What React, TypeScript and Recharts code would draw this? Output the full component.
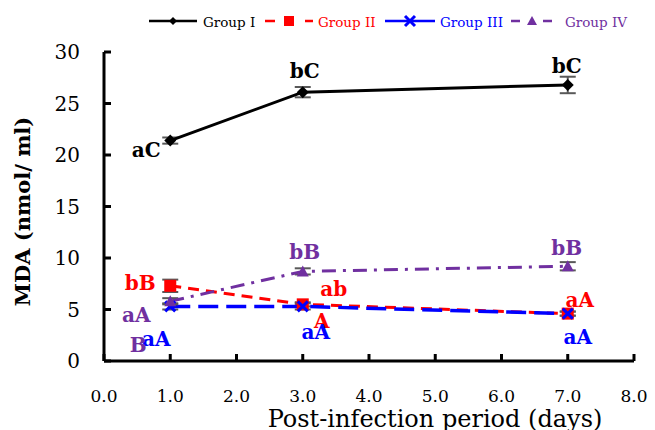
import React from 'react';
import { LineChart, Line, XAxis, YAxis, ErrorBar, LabelList, Legend } from 'recharts';

const days = [1, 3, 7];
const xTicks = [0, 1, 2, 3, 4, 5, 6, 7, 8];
const yTicks = [0, 5, 10, 15, 20, 25, 30];

const groupI = [21.4, 26.1, 26.8];
const groupII = [7.3, 5.5, 4.6];
const groupIII = [5.3, 5.3, 4.6];
const groupIV = [5.8, 8.7, 9.2];

const errI = [0.3, 0.5, 0.8];
const errII = [0.6, 0.2, 0.2];
const errIII = [0.3, 0.3, 0.2];
const errIV = [0.3, 0.3, 0.4];

const lettersI = ['aC', 'bC', 'bC'];
const lettersII = ['bB', 'ab', 'aA'];
const lettersIIb = ['', 'A', ''];
const lettersIII = ['aA', 'aA', 'aA'];
const lettersIV = ['aA', 'bB', 'bB'];
const lettersIVb = ['B', '', ''];

const rows = days.map((d, i) => ({
  day: d,
  g1: groupI[i], e1: errI[i], l1: lettersI[i],
  g2: groupII[i], e2: errII[i], l2: lettersII[i], l2b: lettersIIb[i],
  g3: groupIII[i], e3: errIII[i], l3: lettersIII[i],
  g4: groupIV[i], e4: errIV[i], l4: lettersIV[i], l4b: lettersIVb[i],
}));

const SERIF = '"DejaVu Serif", serif';
const BLACK = '#000000';
const RED = '#FF0000';
const BLUE = '#0000FF';
const PURPLE = '#7030A0';

// label offsets from the point, per day
const offI = [[-24, 9], [2, -21], [-1, -19]];
const offII = [[-30, -3], [31, -15], [12, -14]];
const offIIb = [[0, 0], [19, 17], [0, 0]];
const offIII = [[-14, 33], [13, 26], [10, 23]];
const offIV = [[-34, 14], [2, -19], [-1, -18]];
const offIVb = [[-32, 44], [0, 0], [0, 0]];

const makeLabel = (color: string, offs: number[][]) => (p: any) => {
  if (!p.value) return null;
  const o = offs[p.index] || [0, 0];
  return (
    <text x={p.x + o[0]} y={p.y + o[1]} textAnchor="middle" dominantBaseline="central"
      fill={color} fontFamily={SERIF} fontWeight="bold" fontSize={20}>
      {p.value}
    </text>
  );
};

const Diamond = (p: any) => (
  <path d={`M${p.cx},${p.cy - 6} L${p.cx + 6},${p.cy} L${p.cx},${p.cy + 6} L${p.cx - 6},${p.cy} Z`} fill={BLACK} />
);
const Square = (p: any) => <rect x={p.cx - 6} y={p.cy - 6} width={12} height={12} fill={RED} />;
const Cross = (p: any) => (
  <path d={`M${p.cx - 5},${p.cy - 5} L${p.cx + 5},${p.cy + 5} M${p.cx + 5},${p.cy - 5} L${p.cx - 5},${p.cy + 5}`}
    stroke={BLUE} strokeWidth={3} />
);
const Triangle = (p: any) => (
  <path d={`M${p.cx},${p.cy - 6} L${p.cx + 6},${p.cy + 5} L${p.cx - 6},${p.cy + 5} Z`} fill={PURPLE} />
);

const YTick = (p: any) => (
  <g>
    <line x1={p.x} x2={p.x + 7} y1={p.y} y2={p.y} stroke={BLACK} strokeWidth={3} />
    <text x={p.x - 24} y={p.y} textAnchor="end" dominantBaseline="central" fontFamily={SERIF} fontSize={20} fill={BLACK}>
      {p.payload.value}
    </text>
  </g>
);

const XTick = (p: any) => (
  <g>
    <line x1={p.x} x2={p.x} y1={p.y} y2={p.y - 7} stroke={BLACK} strokeWidth={3} />
    <text x={p.x} y={p.y + 35} textAnchor="middle" dominantBaseline="central" fontFamily={SERIF} fontSize={17} fill={BLACK}>
      {Number(p.payload.value).toFixed(1)}
    </text>
  </g>
);

const legendItems = [
  { name: 'Group I', color: BLACK, dash: undefined, mark: 'diamond', x: 149, w: 48, tx: 203 },
  { name: 'Group II', color: RED, dash: '10 30', mark: 'square', x: 265, w: 48, tx: 318 },
  { name: 'Group III', color: BLUE, dash: undefined, mark: 'cross', x: 385, w: 50, tx: 440 },
  { name: 'Group IV', color: PURPLE, dash: '9 23', mark: 'triangle', x: 511, w: 42, tx: 565 },
];

const LegendContent = () => (
  <svg width={655} height={44} style={{ display: 'block' }}>
    {legendItems.map((it) => {
      const cx = it.x + it.w / 2;
      const cy = 13;
      return (
        <g key={it.name}>
          <line x1={it.x} x2={it.x + it.w} y1={cy} y2={cy} stroke={it.color} strokeWidth={2.5} strokeDasharray={it.dash} />
          {it.mark === 'diamond' && <path d={`M${cx},${cy - 4} L${cx + 4},${cy} L${cx},${cy + 4} L${cx - 4},${cy} Z`} fill={BLACK} />}
          {it.mark === 'square' && <rect x={cx - 5} y={cy - 5} width={10} height={10} fill={RED} />}
          {it.mark === 'cross' && <Cross cx={cx} cy={cy} />}
          {it.mark === 'triangle' && <path d={`M${cx},${cy - 5} L${cx + 5},${cy + 4} L${cx - 5},${cy + 4} Z`} fill={PURPLE} />}
          <text x={it.tx} y={cy + 1} dominantBaseline="central" fontFamily={SERIF} fontSize={13.5} fill={it.color}>{it.name}</text>
        </g>
      );
    })}
  </svg>
);

export default function App() {
  return (
    <div>
      <style>{'body{margin:0}'}</style>
      <LineChart width={655} height={430} data={rows} margin={{ top: 8, right: 21, left: 44, bottom: 9 }}>
        <Legend verticalAlign="top" content={<LegendContent />} wrapperStyle={{ left: 0, top: 8, width: 655 }} />
        <XAxis dataKey="day" type="number" domain={[0, 8]} ticks={xTicks} height={60}
          axisLine={{ stroke: BLACK, strokeWidth: 3 }} tickLine={false} tickSize={0} tickMargin={0} tick={<XTick />}
          label={{
            content: (p: any) => (
              <text x={p.viewBox.x + p.viewBox.width / 2 + 66} y={p.viewBox.y + 66} textAnchor="middle"
                fontFamily={SERIF} fontSize={24} fill={BLACK}>Post-infection period (days)</text>
            ),
          }} />
        <YAxis type="number" domain={[0, 30]} ticks={yTicks} width={60}
          axisLine={{ stroke: BLACK, strokeWidth: 3 }} tickLine={false} tickSize={0} tickMargin={0} tick={<YTick />}
          label={{
            content: (p: any) => {
              const cx = p.viewBox.x - 22;
              const cy = p.viewBox.y + p.viewBox.height / 2 + 5;
              return (
                <text x={cx} y={cy} transform={`rotate(-90 ${cx} ${cy})`} textAnchor="middle" dominantBaseline="central"
                  fontFamily={SERIF} fontWeight="bold" fontSize={21} fill={BLACK}>MDA (nmol/ ml)</text>
              );
            },
          }} />
        <Line dataKey="g1" name="Group I" stroke={BLACK} strokeWidth={3} dot={<Diamond />} activeDot={false} isAnimationActive={false}>
          <ErrorBar dataKey="e1" direction="y" width={8} stroke="#595959" strokeWidth={2} />
          <LabelList dataKey="l1" content={makeLabel(BLACK, offI)} />
        </Line>
        <Line dataKey="g2" name="Group II" stroke={RED} strokeWidth={3} strokeDasharray="11 7" dot={<Square />} activeDot={false} isAnimationActive={false}>
          <ErrorBar dataKey="e2" direction="y" width={8} stroke="#595959" strokeWidth={2} />
          <LabelList dataKey="l2" content={makeLabel(RED, offII)} />
          <LabelList dataKey="l2b" content={makeLabel(RED, offIIb)} />
        </Line>
        <Line dataKey="g3" name="Group III" stroke={BLUE} strokeWidth={3.5} strokeDasharray="20 8" dot={<Cross />} activeDot={false} isAnimationActive={false}>
          <ErrorBar dataKey="e3" direction="y" width={8} stroke="#595959" strokeWidth={2} />
          <LabelList dataKey="l3" content={makeLabel(BLUE, offIII)} />
        </Line>
        <Line dataKey="g4" name="Group IV" stroke={PURPLE} strokeWidth={3} strokeDasharray="14 7 3 7" dot={<Triangle />} activeDot={false} isAnimationActive={false}>
          <ErrorBar dataKey="e4" direction="y" width={8} stroke="#595959" strokeWidth={2} />
          <LabelList dataKey="l4" content={makeLabel(PURPLE, offIV)} />
          <LabelList dataKey="l4b" content={makeLabel(PURPLE, offIVb)} />
        </Line>
      </LineChart>
    </div>
  );
}
